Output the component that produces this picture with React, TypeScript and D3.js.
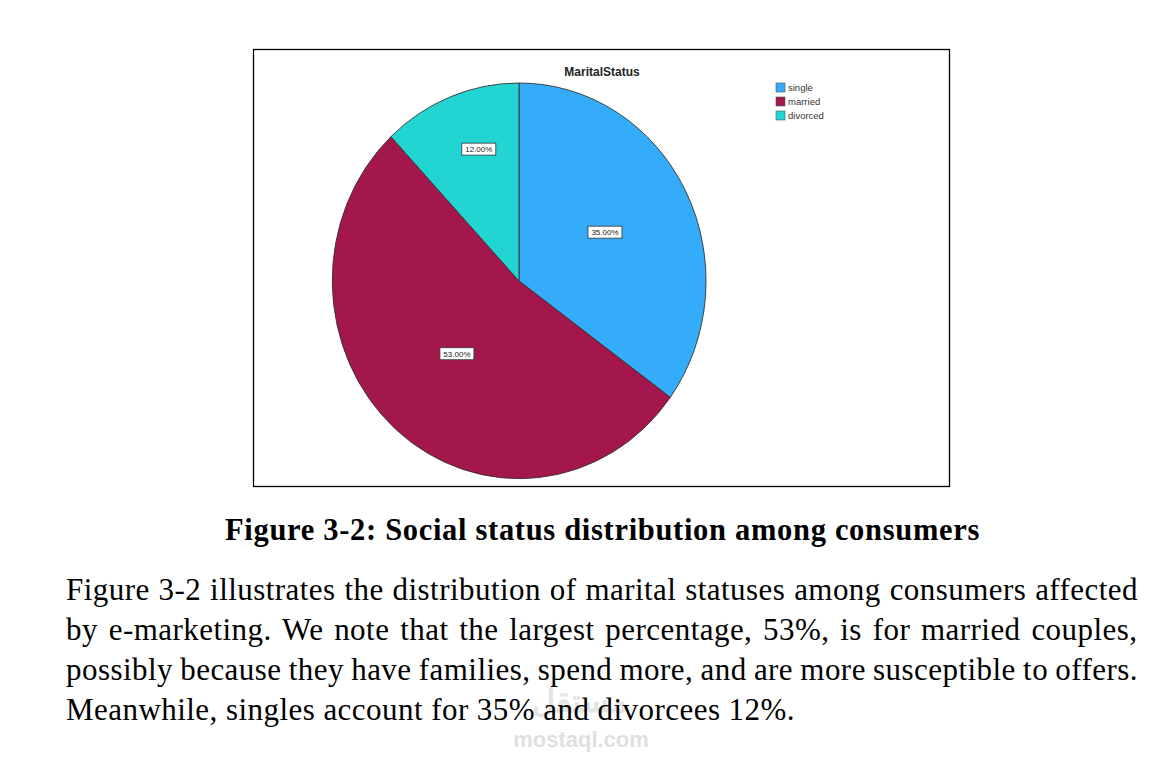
import React from "react";
import * as d3 from "d3";

const categories = ["single", "married", "divorced"];
const values = [35, 53, 12];
const labels = ["35.00%", "53.00%", "12.00%"];
const colors = ["#35acf9", "#a3174c", "#22d4d2"];
const chartTitle = "MaritalStatus";
const caption = "Figure 3-2: Social status distribution among consumers";
const paragraph = [
  "Figure 3-2 illustrates the distribution of marital statuses among consumers affected",
  "by e-marketing. We note that the largest percentage, 53%, is for married couples,",
  "possibly because they have families, spend more, and are more susceptible to offers.",
  "Meanwhile, singles account for 35% and divorcees 12%.",
];

const SERIF = "'Liberation Serif', 'Times New Roman', serif";
const SANS = "'Liberation Sans', Arial, sans-serif";

function measure(text: string, font: string): number {
  const c = document.createElement("canvas");
  const ctx = c.getContext("2d");
  if (!ctx) return text.length * 14;
  ctx.font = font;
  return ctx.measureText(text).width;
}

export default function App() {
  const cx = 519;
  const cy = 281;
  const rx = 187;
  const ry = 198;

  const pie = d3.pie<number>().value((d) => d).sort(null)(values);
  const arc = d3.arc<d3.PieArcDatum<number>>().innerRadius(0).outerRadius(1);

  const paraFontSize = 31;
  const paraFont = `${paraFontSize}px ${SERIF}`;
  const left = 66;
  const right = 1138;
  const lastLine = paragraph[paragraph.length - 1];
  const ls = Math.max(0, (729 - measure(lastLine, paraFont)) / lastLine.length);

  const capSize = 30.5;
  const capFont = `bold ${capSize}px ${SERIF}`;
  const capLs = Math.max(0, (755 - measure(caption, capFont)) / caption.length);

  return (
    <svg
      width={1165}
      height={765}
      style={{ position: "absolute", left: 0, top: 0, background: "#fff" }}
    >
      <rect x={0} y={0} width={1165} height={765} fill="#fff" />
      <rect x={253.5} y={49.5} width={696} height={437} fill="#fff" stroke="#000" strokeWidth={1.3} />
      <text x={602} y={76} textAnchor="middle" fontFamily={SANS} fontWeight="bold" fontSize={12} fill="#222">
        {chartTitle}
      </text>
      <g transform={`translate(${cx},${cy}) scale(${rx},${ry})`}>
        {pie.map((p, i) => (
          <path
            key={i}
            d={arc(p) || ""}
            fill={colors[i]}
            stroke="#333"
            strokeWidth={0.9}
            vectorEffect="non-scaling-stroke"
          />
        ))}
      </g>
      {pie.map((p, i) => {
        const mid = (p.startAngle + p.endAngle) / 2;
        const frac = (p.endAngle - p.startAngle) / (2 * Math.PI);
        const rf = frac < 0.2 ? 0.7 : 0.51;
        const x = cx + Math.sin(mid) * rx * rf + (frac < 0.2 ? 8 : 1);
        const y = cy - Math.cos(mid) * ry * rf - 3;
        return (
          <g key={i}>
            <rect x={x - 17} y={y - 6} width={34} height={12} fill="#fff" stroke="#333" strokeWidth={0.8} />
            <text x={x} y={y + 3} textAnchor="middle" fontFamily={SANS} fontSize={8} fill="#222">
              {labels[i]}
            </text>
          </g>
        );
      })}
      {categories.map((c, i) => (
        <g key={c}>
          <rect x={776} y={83 + i * 14} width={9} height={9} fill={colors[i]} stroke="#555" strokeWidth={0.6} />
          <text x={788} y={91 + i * 14} fontFamily={SANS} fontSize={9.5} fill="#333">
            {c}
          </text>
        </g>
      ))}
      <text
        x={225}
        y={539.5}
        fontFamily={SERIF}
        fontWeight="bold"
        fontSize={capSize}
        letterSpacing={capLs}
        fill="#000"
      >
        {caption}
      </text>
      {paragraph.map((line, i) => {
        const isLast = i === paragraph.length - 1;
        let ws = 0;
        if (!isLast) {
          const w = measure(line, paraFont) + ls * line.length;
          const spaces = (line.match(/ /g) || []).length;
          ws = spaces > 0 ? (right - left - w) / spaces : 0;
        }
        return (
          <text
            key={i}
            x={left}
            y={600 + i * 40}
            fontFamily={SERIF}
            fontSize={paraFontSize}
            letterSpacing={ls}
            wordSpacing={ws}
            fill="#000"
          >
            {line}
          </text>
        );
      })}
      <text x={581} y={747} textAnchor="middle" fontFamily={SANS} fontWeight="bold" fontSize={22} fill="#000" opacity={0.12}>
        mostaql.com
      </text>
      <text x={580} y={712} textAnchor="middle" fontFamily={SANS} fontWeight="bold" fontSize={32} fill="#000" opacity={0.1}>
        مستقل
      </text>
    </svg>
  );
}
